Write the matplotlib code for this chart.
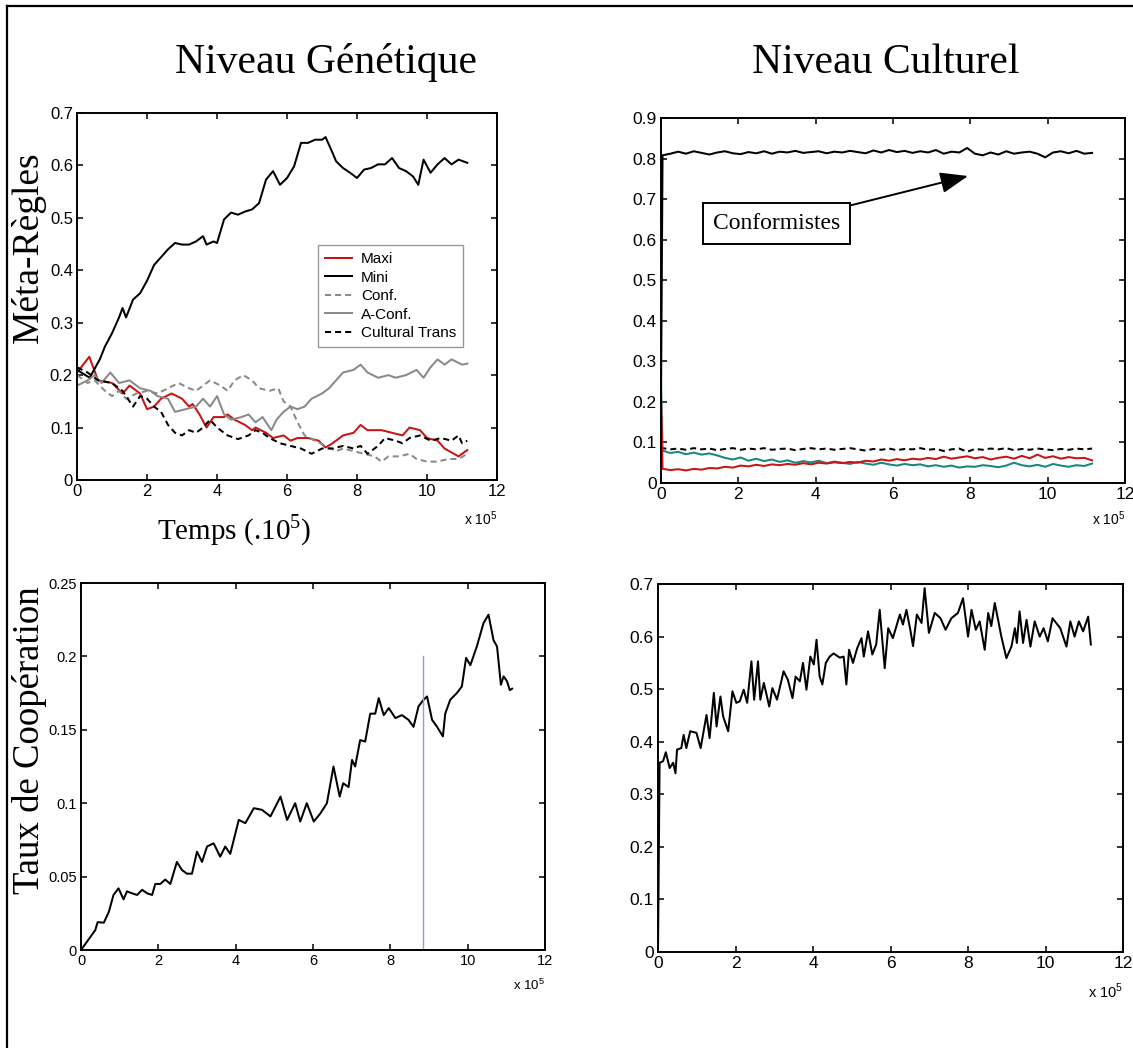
import numpy as np
import matplotlib
matplotlib.use("Agg")
import matplotlib.pyplot as plt
from matplotlib.lines import Line2D
from matplotlib.ticker import FuncFormatter

plt.rcParams['font.family'] = ['Liberation Sans', 'DejaVu Sans']
plt.rcParams['mathtext.fontset'] = 'custom'
plt.rcParams['mathtext.rm'] = 'Liberation Serif'
plt.rcParams['mathtext.sf'] = 'Liberation Sans'

SERIF = ['Liberation Serif', 'DejaVu Serif']

# ---- genetic level: meta-rules (time in units of 1e5) ----
mini_x = [0, 0.36, 0.65, 0.8, 1.0, 1.2, 1.3, 1.4, 1.6, 1.8, 2.0, 2.2, 2.4, 2.6, 2.8, 3.0, 3.2,
          3.4, 3.6, 3.7, 3.9, 4.0, 4.2, 4.4, 4.6, 4.8, 5.0, 5.2, 5.4, 5.6, 5.8, 6.0, 6.2, 6.4,
          6.6, 6.8, 7.0, 7.1, 7.3, 7.4, 7.6, 7.8, 8.0, 8.2, 8.4, 8.6, 8.8, 9.0, 9.2, 9.4, 9.6,
          9.75, 9.9, 10.1, 10.3, 10.5, 10.7, 10.9, 11.15]
mini_y = [0.21, 0.195, 0.23, 0.255, 0.28, 0.31, 0.328, 0.31, 0.344, 0.356, 0.38, 0.41, 0.425,
          0.44, 0.452, 0.449, 0.449, 0.455, 0.465, 0.449, 0.455, 0.452, 0.497, 0.51, 0.506,
          0.512, 0.516, 0.528, 0.573, 0.589, 0.563, 0.576, 0.598, 0.643, 0.643, 0.649, 0.649,
          0.654, 0.624, 0.608, 0.595, 0.586, 0.576, 0.592, 0.595, 0.602, 0.602, 0.614, 0.595,
          0.589, 0.579, 0.563, 0.611, 0.586, 0.602, 0.614, 0.602, 0.611, 0.605]

maxi_x = [0, 0.35, 0.6, 1.0, 1.3, 1.5, 1.8, 2.0, 2.2, 2.4, 2.7, 3.0, 3.2, 3.3, 3.5, 3.7, 3.9,
          4.2, 4.3, 4.5, 4.8, 5.0, 5.1, 5.4, 5.6, 5.9, 6.1, 6.3, 6.6, 6.9, 7.1, 7.3, 7.6, 7.9,
          8.1, 8.3, 8.7, 9.0, 9.3, 9.5, 9.8, 10.0, 10.3, 10.5, 10.9, 11.0, 11.15]
maxi_y = [0.205, 0.235, 0.19, 0.185, 0.165, 0.18, 0.165, 0.135, 0.14, 0.155, 0.165, 0.155,
          0.14, 0.145, 0.125, 0.10, 0.12, 0.12, 0.125, 0.115, 0.105, 0.095, 0.10, 0.09, 0.08,
          0.085, 0.075, 0.08, 0.08, 0.075, 0.062, 0.07, 0.085, 0.09, 0.105, 0.095, 0.095, 0.09,
          0.085, 0.10, 0.095, 0.08, 0.075, 0.06, 0.045, 0.05, 0.057]

aconf_x = [0, 0.3, 0.5, 0.7, 0.95, 1.2, 1.5, 1.8, 2.1, 2.3, 2.6, 2.8, 3.1, 3.4, 3.6, 3.8, 4.0,
           4.2, 4.4, 4.7, 4.9, 5.1, 5.3, 5.55, 5.7, 5.9, 6.1, 6.3, 6.5, 6.7, 7.0, 7.2, 7.4, 7.6,
           7.9, 8.1, 8.3, 8.6, 8.9, 9.1, 9.4, 9.7, 9.9, 10.1, 10.3, 10.5, 10.7, 11.0, 11.15]
aconf_y = [0.18, 0.19, 0.2, 0.185, 0.205, 0.185, 0.19, 0.175, 0.17, 0.16, 0.155, 0.13, 0.135,
           0.14, 0.155, 0.14, 0.16, 0.125, 0.115, 0.12, 0.125, 0.11, 0.12, 0.095, 0.115, 0.13,
           0.14, 0.135, 0.14, 0.155, 0.165, 0.175, 0.19, 0.205, 0.21, 0.22, 0.205, 0.195, 0.2,
           0.195, 0.2, 0.21, 0.195, 0.215, 0.23, 0.22, 0.23, 0.22, 0.222]

conf_x = [0, 0.3, 0.5, 0.8, 1.0, 1.2, 1.4, 1.7, 2.0, 2.3, 2.6, 2.9, 3.2, 3.4, 3.6, 3.8, 4.1,
          4.3, 4.5, 4.75, 5.0, 5.2, 5.5, 5.75, 5.9, 6.1, 6.3, 6.5, 6.8, 7.1, 7.4, 7.6, 7.9, 8.2,
          8.5, 8.7, 8.9, 9.2, 9.5, 9.7, 10.0, 10.3, 10.6, 10.9, 11.15]
conf_y = [0.2, 0.185, 0.19, 0.17, 0.16, 0.17, 0.155, 0.165, 0.17, 0.165, 0.175, 0.185, 0.175,
          0.17, 0.18, 0.19, 0.18, 0.17, 0.19, 0.2, 0.19, 0.175, 0.17, 0.175, 0.15, 0.14, 0.11,
          0.085, 0.075, 0.065, 0.055, 0.06, 0.055, 0.05, 0.045, 0.035, 0.045, 0.045, 0.05,
          0.04, 0.035, 0.035, 0.04, 0.04, 0.05]

ctrans_x = [0, 0.3, 0.6, 1.0, 1.3, 1.6, 1.8, 2.0, 2.2, 2.4, 2.6, 2.8, 3.0, 3.2, 3.4, 3.6, 3.8,
            4.0, 4.3, 4.6, 4.9, 5.1, 5.3, 5.5, 5.8, 6.1, 6.4, 6.7, 7.0, 7.3, 7.6, 7.9, 8.1, 8.3,
            8.6, 8.8, 9.1, 9.3, 9.5, 9.8, 10.1, 10.4, 10.7, 10.9, 11.0, 11.15]
ctrans_y = [0.215, 0.205, 0.19, 0.185, 0.17, 0.14, 0.16, 0.155, 0.14, 0.13, 0.105, 0.09, 0.085,
            0.095, 0.09, 0.10, 0.115, 0.10, 0.085, 0.078, 0.085, 0.095, 0.09, 0.08, 0.07, 0.065,
            0.06, 0.05, 0.06, 0.06, 0.065, 0.06, 0.065, 0.05, 0.065, 0.08, 0.075, 0.07, 0.08,
            0.085, 0.075, 0.08, 0.075, 0.085, 0.07, 0.075]

# ---- cultural level: meta-rules ----
cult_conformists = [0.20, 0.808, 0.812, 0.817, 0.812, 0.818, 0.814, 0.810, 0.815, 0.818, 0.813,
                    0.811, 0.816, 0.813, 0.818, 0.812, 0.817, 0.815, 0.819, 0.814, 0.816, 0.818,
                    0.813, 0.817, 0.815, 0.819, 0.816, 0.813, 0.820, 0.815, 0.821, 0.816, 0.819,
                    0.814, 0.818, 0.815, 0.821, 0.812, 0.817, 0.815, 0.826, 0.812, 0.808, 0.815,
                    0.810, 0.818, 0.812, 0.815, 0.817, 0.812, 0.803, 0.815, 0.818, 0.813, 0.819,
                    0.812, 0.814]
cult_trans = [0.09, 0.086, 0.083, 0.085, 0.082, 0.086, 0.083, 0.085, 0.081, 0.084, 0.086, 0.082,
              0.085, 0.083, 0.086, 0.082, 0.084, 0.085, 0.081, 0.084, 0.086, 0.083, 0.085, 0.082,
              0.084, 0.086, 0.083, 0.080, 0.084, 0.082, 0.085, 0.081, 0.084, 0.083, 0.086, 0.082,
              0.084, 0.079, 0.083, 0.085, 0.077, 0.084, 0.082, 0.085, 0.083, 0.086, 0.081, 0.084,
              0.082, 0.085, 0.083, 0.081, 0.084, 0.082, 0.085, 0.083, 0.085]
cult_teal = [0.25, 0.08, 0.074, 0.077, 0.071, 0.075, 0.07, 0.073, 0.068, 0.062, 0.058, 0.063,
             0.055, 0.06, 0.054, 0.058, 0.052, 0.056, 0.05, 0.054, 0.051, 0.055, 0.049, 0.053,
             0.05, 0.047, 0.052, 0.048, 0.045, 0.05, 0.046, 0.043, 0.047, 0.044, 0.046, 0.041,
             0.044, 0.04, 0.043, 0.038, 0.041, 0.04, 0.044, 0.042, 0.039, 0.043, 0.05, 0.044,
             0.041, 0.045, 0.04, 0.047, 0.043, 0.04, 0.044, 0.042, 0.048]
cult_red = [0.22, 0.035, 0.032, 0.034, 0.031, 0.035, 0.033, 0.037, 0.036, 0.04, 0.038, 0.043,
            0.041, 0.045, 0.042, 0.046, 0.044, 0.047, 0.045, 0.049, 0.046, 0.05, 0.048, 0.051,
            0.049, 0.052, 0.05, 0.055, 0.053, 0.058, 0.055, 0.059, 0.056, 0.06, 0.058, 0.062,
            0.059, 0.065, 0.06, 0.063, 0.066, 0.061, 0.064, 0.058, 0.062, 0.065, 0.06, 0.067,
            0.061, 0.07, 0.062, 0.066, 0.06, 0.064, 0.061, 0.062, 0.056]

# ---- genetic level: cooperation rate ----
coop_gen_x = [0, 0.37, 0.43, 0.59, 0.72, 0.84, 0.97, 1.1, 1.19, 1.32, 1.45, 1.58, 1.71, 1.84,
              1.92, 2.05, 2.18, 2.31, 2.48, 2.61, 2.74, 2.87, 3.0, 3.13, 3.26, 3.43, 3.6, 3.73,
              3.86, 4.08, 4.25, 4.47, 4.68, 4.9, 5.16, 5.33, 5.54, 5.67, 5.84, 6.02, 6.19, 6.36,
              6.53, 6.69, 6.78, 6.92, 7.01, 7.09, 7.22, 7.35, 7.48, 7.61, 7.7, 7.83, 7.96, 8.13,
              8.3, 8.47, 8.6, 8.73, 8.86, 8.95, 9.08, 9.21, 9.36, 9.42, 9.55, 9.72, 9.85, 9.96,
              10.07, 10.24, 10.41, 10.54, 10.67, 10.76, 10.86, 10.93, 11.02, 11.09, 11.15]
coop_gen_y = [0, 0.0136, 0.019, 0.0186, 0.026, 0.0375, 0.042, 0.0345, 0.040, 0.0386, 0.0375,
              0.041, 0.0386, 0.0375, 0.045, 0.045, 0.048, 0.045, 0.060, 0.0545, 0.052, 0.052,
              0.067, 0.060, 0.0705, 0.0727, 0.0636, 0.0705, 0.0655, 0.0886, 0.0864, 0.0966,
              0.0955, 0.091, 0.1045, 0.0886, 0.100, 0.0875, 0.100, 0.0875, 0.093, 0.100, 0.125,
              0.1045, 0.1136, 0.111, 0.1295, 0.125, 0.143, 0.142, 0.161, 0.161, 0.1716, 0.160,
              0.1648, 0.158, 0.160, 0.1568, 0.152, 0.166, 0.1705, 0.1727, 0.1568, 0.152, 0.1455,
              0.161, 0.1705, 0.175, 0.1795, 0.199, 0.194, 0.207, 0.2227, 0.2284, 0.211, 0.2068,
              0.1807, 0.1864, 0.183, 0.177, 0.178]
marker_t = 8.84
marker_top = 0.2

# ---- cultural level: cooperation rate ----
coop_cult_x = [0, 0.04, 0.13, 0.2, 0.3, 0.39, 0.45, 0.49, 0.6, 0.66, 0.73, 0.83, 0.99, 1.1,
               1.25, 1.33, 1.44, 1.51, 1.61, 1.68, 1.81, 1.92, 2.02, 2.11, 2.21, 2.3, 2.41,
               2.48, 2.58, 2.64, 2.73, 2.87, 2.95, 3.07, 3.24, 3.35, 3.47, 3.55, 3.66, 3.74,
               3.83, 3.93, 4.02, 4.09, 4.17, 4.24, 4.33, 4.43, 4.53, 4.69, 4.79, 4.86, 4.93,
               5.03, 5.14, 5.25, 5.31, 5.42, 5.53, 5.63, 5.72, 5.85, 5.94, 6.06, 6.24, 6.32,
               6.41, 6.51, 6.58, 6.68, 6.8, 6.88, 6.99, 7.14, 7.29, 7.42, 7.57, 7.74, 7.87, 8.0,
               8.09, 8.2, 8.3, 8.43, 8.52, 8.6, 8.69, 8.86, 8.99, 9.12, 9.21, 9.26, 9.33, 9.42,
               9.51, 9.61, 9.72, 9.85, 9.95, 10.06, 10.18, 10.38, 10.54, 10.64, 10.75, 10.86,
               10.97, 11.1, 11.17]
coop_cult_y = [0.01, 0.36, 0.363, 0.38, 0.35, 0.36, 0.34, 0.385, 0.388, 0.413, 0.388, 0.42,
               0.417, 0.388, 0.451, 0.407, 0.493, 0.429, 0.486, 0.448, 0.42, 0.496, 0.474,
               0.477, 0.499, 0.474, 0.553, 0.48, 0.553, 0.48, 0.512, 0.467, 0.502, 0.48, 0.534,
               0.518, 0.483, 0.524, 0.515, 0.55, 0.499, 0.562, 0.547, 0.594, 0.524, 0.509, 0.55,
               0.562, 0.568, 0.56, 0.562, 0.509, 0.575, 0.55, 0.578, 0.597, 0.562, 0.61, 0.566,
               0.585, 0.651, 0.54, 0.616, 0.597, 0.642, 0.623, 0.651, 0.613, 0.582, 0.642,
               0.626, 0.692, 0.607, 0.645, 0.635, 0.613, 0.635, 0.645, 0.673, 0.6, 0.651, 0.613,
               0.629, 0.575, 0.645, 0.62, 0.664, 0.6, 0.559, 0.581, 0.616, 0.588, 0.648, 0.588,
               0.632, 0.581, 0.629, 0.6, 0.616, 0.591, 0.635, 0.616, 0.581, 0.629, 0.6, 0.629,
               0.61, 0.638, 0.585]

x_ticks = [0, 2, 4, 6, 8, 10, 12]

RED = '#c81414'
TEAL = '#17877f'
GREY = '#8a8a8a'
LW = 1.45


def matlab_axes(ax, ylim, yticks, fs):
    ax.set_xlim(0, 12)
    ax.set_ylim(*ylim)
    ax.set_xticks(x_ticks)
    ax.set_yticks(yticks)
    ax.xaxis.set_major_formatter(FuncFormatter(lambda v, p: '%g' % v))
    ax.yaxis.set_major_formatter(FuncFormatter(lambda v, p: '%g' % round(v, 3)))
    ax.tick_params(direction='in', top=True, right=True, length=4, width=1.1,
                   labelsize=fs, pad=3)
    for s in ax.spines.values():
        s.set_linewidth(1.4)


def x_offset(ax, y, fs=10):
    ax.text(1.0, y, r'x 10$^{\mathsf{5}}$', transform=ax.transAxes, ha='right',
            va='baseline', fontsize=fs)


fig = plt.figure(figsize=(11.33, 10.48), dpi=100)

# figure frame (top and left only)
fig.add_artist(Line2D([7 / 1133, 7 / 1133], [0, 1 - 6 / 1048], color='black', lw=1.6))
fig.add_artist(Line2D([7 / 1133, 1], [1 - 6 / 1048, 1 - 6 / 1048], color='black', lw=1.6))

ax1 = fig.add_axes([0.0680, 0.5420, 0.3707, 0.3502])
ax2 = fig.add_axes([0.5834, 0.5391, 0.4095, 0.3483])
ax3 = fig.add_axes([0.0715, 0.0935, 0.4095, 0.3502])
ax4 = fig.add_axes([0.5808, 0.0916, 0.4104, 0.3511])

# top left
ax1.plot(maxi_x, maxi_y, color=RED, lw=LW, label='Maxi')
ax1.plot(mini_x, mini_y, color='black', lw=LW, label='Mini')
ax1.plot(conf_x, conf_y, color=GREY, lw=LW, dashes=(3, 2), label='Conf.')
ax1.plot(aconf_x, aconf_y, color=GREY, lw=LW, label='A-Conf.')
ax1.plot(ctrans_x, ctrans_y, color='black', lw=LW, dashes=(3, 2), label='Cultural Trans')
matlab_axes(ax1, (0, 0.7), np.arange(0, 0.71, 0.1), 12)
leg = ax1.legend(loc='upper left', bbox_to_anchor=(0.574, 0.640), borderaxespad=0,
                 fontsize=11, frameon=True, fancybox=False, framealpha=1,
                 handlelength=1.75, handletextpad=0.6, labelspacing=0.3, borderpad=0.45)
leg.get_frame().set_edgecolor('#999999')
leg.get_frame().set_linewidth(1.0)
x_offset(ax1, -0.123)

# top right
xg = np.concatenate([[0.0], np.linspace(0.04, 11.15, len(cult_conformists) - 1)])
ax2.plot(xg, cult_conformists, color='black', lw=LW)
xg = np.concatenate([[0.0], np.linspace(0.04, 11.15, len(cult_trans) - 1)])
ax2.plot(xg, cult_trans, color='black', lw=LW, dashes=(3, 2))
xg = np.concatenate([[0.0], np.linspace(0.04, 11.15, len(cult_teal) - 1)])
ax2.plot(xg, cult_teal, color=TEAL, lw=LW)
xg = np.concatenate([[0.0], np.linspace(0.04, 11.15, len(cult_red) - 1)])
ax2.plot(xg, cult_red, color=RED, lw=LW)
matlab_axes(ax2, (0, 0.9), np.arange(0, 0.91, 0.1), 12.5)
ax2.annotate('Conformistes', xy=(7.94, 0.757), xytext=(2.99, 0.639), fontsize=17,
             family=SERIF, ha='center', va='center',
             bbox=dict(boxstyle='square,pad=0.42', fc='white', ec='black', lw=1.4),
             arrowprops=dict(arrowstyle='-|>,head_length=1.0,head_width=0.38',
                             color='black', lw=1.4, shrinkA=0, shrinkB=0))
x_offset(ax2, -0.115)

# bottom left
ax3.plot(coop_gen_x, coop_gen_y, color='black', lw=LW)
ax3.plot([marker_t, marker_t], [0, marker_top], color='#9a9ae0', lw=1.0)
matlab_axes(ax3, (0, 0.25), [0, 0.05, 0.1, 0.15, 0.2, 0.25], 10.5)
x_offset(ax3, -0.109, 9.5)

# bottom right
ax4.plot(coop_cult_x, coop_cult_y, color='black', lw=LW)
matlab_axes(ax4, (0, 0.7), np.arange(0, 0.71, 0.1), 12.5)
x_offset(ax4, -0.125, 10.5)

# titles and labels
fig.text(326 / 1133, 1 - 73 / 1048, 'Niveau Génétique', ha='center', va='baseline',
         fontsize=30, family=SERIF)
fig.text(886 / 1133, 1 - 73 / 1048, 'Niveau Culturel', ha='center', va='baseline',
         fontsize=30, family=SERIF)
fig.text(28 / 1133, 1 - 247 / 1048, 'Méta-Règles', ha='center', va='center', rotation=90,
         fontsize=27, family=SERIF)
fig.text(234 / 1133, 1 - 530 / 1048, r'Temps (.10$^5$)', ha='center', va='center',
         fontsize=21, family=SERIF)
fig.text(30 / 1133, 1 - 740 / 1048, 'Taux de Coopération', ha='center', va='center',
         rotation=90, fontsize=26.5, family=SERIF)

plt.savefig('out.png', dpi=100)
